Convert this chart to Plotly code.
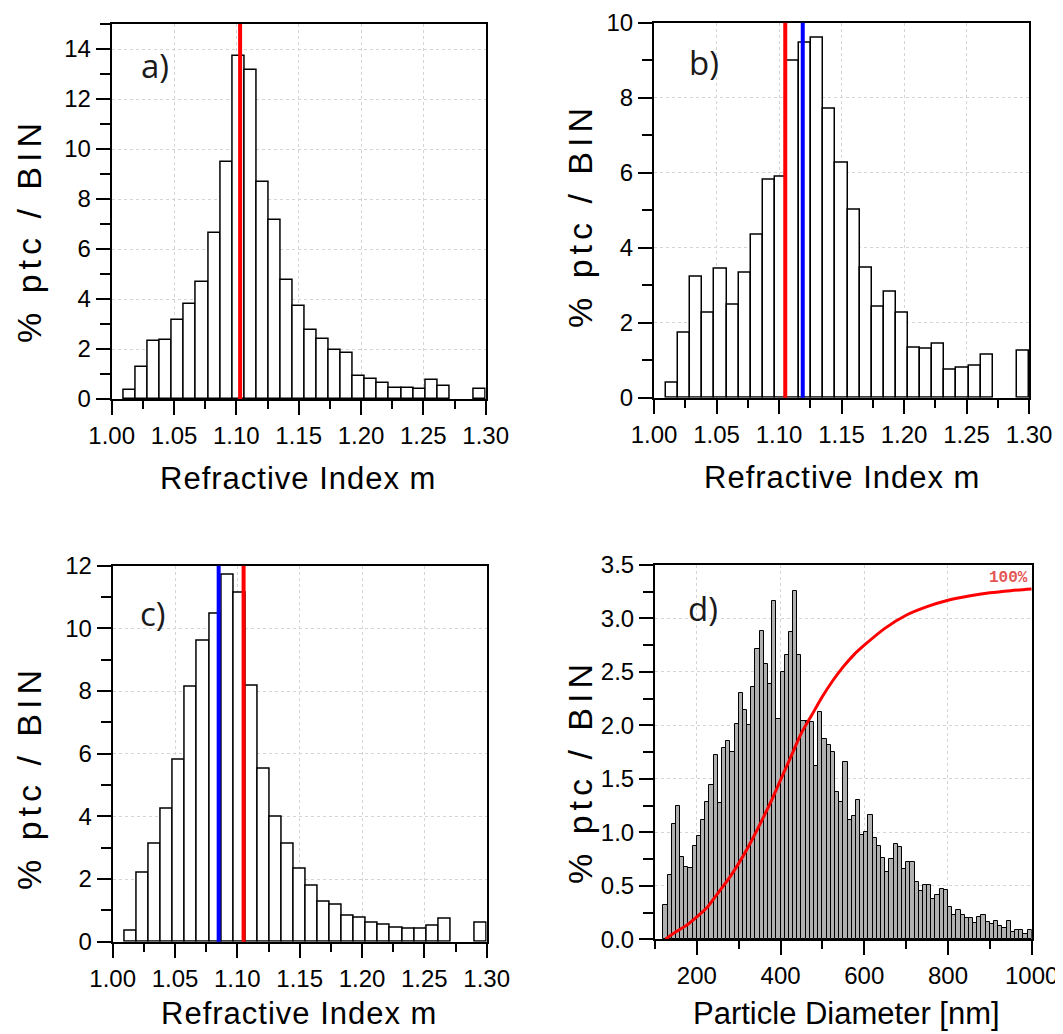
import numpy as np
import plotly.graph_objects as go

# ---------------- data ----------------
RI_RANGE = [1.00, 1.30]
RI_NBINS = 31

a_values = [0, 0.36, 1.29, 2.33, 2.37, 3.16, 3.80, 4.69, 6.63, 9.47, 13.71,
            13.17, 8.69, 7.16, 4.76, 3.72, 2.76, 2.41, 1.96, 1.83, 0.93,
            0.80, 0.65, 0.45, 0.45, 0.41, 0.76, 0.52, 0, 0, 0.41]
b_values = [0, 0.40, 1.74, 3.24, 2.28, 3.43, 2.47, 3.33, 4.36, 5.82, 5.89,
            8.98, 9.47, 9.61, 7.72, 6.28, 5.02, 3.48, 2.43, 2.84, 2.27,
            1.34, 1.30, 1.45, 0.74, 0.81, 0.85, 1.16, 0, 0, 1.25]
c_values = [0, 0.35, 2.20, 3.12, 4.26, 5.82, 8.14, 9.60, 10.48, 11.70, 11.15,
            8.16, 5.53, 3.99, 3.12, 2.34, 1.78, 1.28, 1.19, 0.82, 0.77,
            0.61, 0.53, 0.45, 0.40, 0.43, 0.50, 0.72, 0, 0, 0.62]

a_red = 1.103
b_red, b_blue = 1.105, 1.119
c_blue, c_red = 1.085, 1.105

d_bin_start = 120
d_bin_width = 10
d_values = [0.32, 0.60, 1.08, 1.25, 0.77, 0.68, 0.67, 0.87, 0.97, 1.12,
            1.28, 1.44, 1.72, 1.27, 1.79, 1.85, 1.75, 2.01, 2.30, 2.14,
            2.00, 2.36, 2.71, 2.88, 2.57, 2.39, 3.16, 2.06, 2.50, 2.66,
            2.87, 3.26, 2.66, 2.04, 2.04, 2.03, 1.62, 2.13, 1.87, 1.82,
            1.75, 1.38, 1.28, 1.66, 1.12, 1.15, 1.30, 0.98, 1.00, 1.16,
            0.95, 0.87, 0.76, 0.63, 0.75, 0.89, 0.86, 0.66, 0.72, 0.72,
            0.54, 0.45, 0.51, 0.51, 0.38, 0.41, 0.47, 0.46, 0.30, 0.23,
            0.27, 0.23, 0.20, 0.20, 0.15, 0.21, 0.23, 0.16, 0.14, 0.17,
            0.12, 0.11, 0.17, 0.07, 0.09, 0.09, 0.05, 0.09]

cum_x = [125, 150, 175, 200, 225, 250, 275, 300, 325, 350, 375, 400, 425,
         450, 475, 500, 525, 550, 575, 600, 650, 700, 750, 800, 850, 900,
         950, 1000]
cum_y = [0.0, 0.07, 0.13, 0.21, 0.30, 0.43, 0.56, 0.71, 0.88, 1.07, 1.27,
         1.49, 1.71, 1.93, 2.10, 2.27, 2.42, 2.55, 2.66, 2.75, 2.91, 3.03,
         3.11, 3.17, 3.21, 3.24, 3.26, 3.275]

# ---------------- figure ----------------
OFF = 8                      # page body margin of the html page
W, H = 1063 - OFF, 1034 - OFF
edges = np.linspace(RI_RANGE[0], RI_RANGE[1], RI_NBINS + 1)
centers = (edges[:-1] + edges[1:]) / 2
bw = (RI_RANGE[1] - RI_RANGE[0]) / RI_NBINS

fig = go.Figure()

def ri_bars(vals, xa, ya):
    xs = [c for c, v in zip(centers, vals) if v > 0]
    ys = [v for v in vals if v > 0]
    fig.add_trace(go.Bar(x=xs, y=ys, width=bw, xaxis=xa, yaxis=ya,
                         marker=dict(color='white', line=dict(color='black', width=1.5)),
                         showlegend=False, hoverinfo='skip'))

ri_bars(a_values, 'x', 'y')
ri_bars(b_values, 'x2', 'y2')
ri_bars(c_values, 'x3', 'y3')

d_centers = [d_bin_start + d_bin_width * (i + 0.5) for i in range(len(d_values))]
fig.add_trace(go.Bar(x=d_centers, y=d_values, width=d_bin_width, xaxis='x4', yaxis='y4',
                     marker=dict(color='#b0b0b0', line=dict(color='black', width=1)),
                     showlegend=False, hoverinfo='skip'))
fig.add_trace(go.Scatter(x=cum_x, y=cum_y, xaxis='x4', yaxis='y4', mode='lines',
                         line=dict(color='#ff0000', width=3, shape='spline', smoothing=0.8),
                         showlegend=False, hoverinfo='skip'))

def vline(xv, color, xa, ya):
    fig.add_shape(type='line', xref=xa, yref=ya + ' domain', x0=xv, x1=xv, y0=0, y1=1,
                  line=dict(color=color, width=4), layer='above')

vline(a_red, '#ff0000', 'x', 'y')
vline(b_red, '#ff0000', 'x2', 'y2')
vline(b_blue, '#0000ff', 'x2', 'y2')
vline(c_blue, '#0000ff', 'x3', 'y3')
vline(c_red, '#ff0000', 'x3', 'y3')

tickfont = dict(family='Liberation Sans, Arial', size=24, color='black')

def axstyle(domain, rng, dtick, minor_dtick, fmt, minor_len, anchor):
    return dict(domain=domain, range=rng, anchor=anchor, tickmode='linear', tick0=0,
                dtick=dtick, tickformat=fmt, showline=True, linecolor='black',
                linewidth=2, mirror=True, ticks='outside', ticklen=14, tickwidth=2,
                tickcolor='black', showgrid=True, gridcolor='#d4d4d4', gridwidth=1,
                griddash='dot', zeroline=False, tickfont=tickfont, fixedrange=True,
                automargin=False,
                minor=dict(dtick=minor_dtick, ticks='outside', ticklen=minor_len,
                           tickwidth=2, tickcolor='black', showgrid=False))

def px_x(a, b):
    return [(a - OFF) / W, (b - OFF) / W]

def px_y(top, bottom):
    return [1 - (bottom - OFF) / H, 1 - (top - OFF) / H]

fig.update_layout(
    width=W, height=H, margin=dict(l=0, r=0, t=0, b=0, autoexpand=False),
    paper_bgcolor='white', plot_bgcolor='white', bargap=0,
    xaxis=axstyle(px_x(111.7, 485.7), RI_RANGE, 0.05, 0.025, '.2f', 8, 'y'),
    yaxis=axstyle(px_y(24, 399), [0, 15], 2, 1, 'd', 10, 'x'),
    xaxis2=axstyle(px_x(654, 1029), RI_RANGE, 0.05, 0.025, '.2f', 8, 'y2'),
    yaxis2=axstyle(px_y(22.7, 397.7), [0, 10], 2, 1, 'd', 10, 'x2'),
    xaxis3=axstyle(px_x(112.7, 486.7), RI_RANGE, 0.05, 0.025, '.2f', 8, 'y3'),
    yaxis3=axstyle(px_y(565.7, 941.7), [0, 12], 2, 1, 'd', 10, 'x3'),
    xaxis4=axstyle(px_x(655, 1031.7), [100, 1000], 200, 100, 'd', 8, 'y4'),
    yaxis4=axstyle(px_y(565, 939.3), [0, 3.5], 0.5, 0.25, '.1f', 10, 'x4'),
)

title_font = dict(family='Liberation Sans, Arial', size=31, color='black')
ytitle_font = dict(family='Liberation Sans, Arial', size=34, color='black')
label_font = dict(family='Open Sans', size=33, color='#1a1a1a')

def ann(text, x, y, font, angle=0, xanchor='center', yanchor='middle'):
    fig.add_annotation(text=text, xref='paper', yref='paper',
                       x=(x - OFF) / W, y=1 - (y - OFF) / H,
                       showarrow=False, font=font, textangle=angle,
                       xanchor=xanchor, yanchor=yanchor)

def spaced(text, px):
    return '<span style="letter-spacing:%dpx">%s</span>' % (px, text)

# axis titles
ann(spaced('Refractive Index m', 1), 298, 479, title_font)
ann(spaced('Refractive Index m', 1), 842, 477, title_font)
ann(spaced('Refractive Index m', 1), 299, 1013, title_font)
ann('Particle Diameter [nm]', 846, 1013, title_font)
ann(spaced('% ptc / BIN', 5), 29, 231, ytitle_font, angle=-90)
ann(spaced('% ptc / BIN', 5), 580, 216, ytitle_font, angle=-90)
ann(spaced('% ptc / BIN', 5), 29, 778, ytitle_font, angle=-90)
ann(spaced('% ptc / BIN', 5), 580, 772, ytitle_font, angle=-90)

# panel letters
ann('a)', 155, 65, label_font)
ann('b)', 704, 63, label_font)
ann('c)', 153, 613, label_font)
ann('d)', 703, 608, label_font)

fig.add_annotation(text='<b>100%</b>', xref='x4', yref='y4', x=997, y=3.38, showarrow=False,
                   xanchor='right', yanchor='middle',
                   font=dict(family='Liberation Mono', size=16, color='#e35555'))

fig.write_html('out.html')
